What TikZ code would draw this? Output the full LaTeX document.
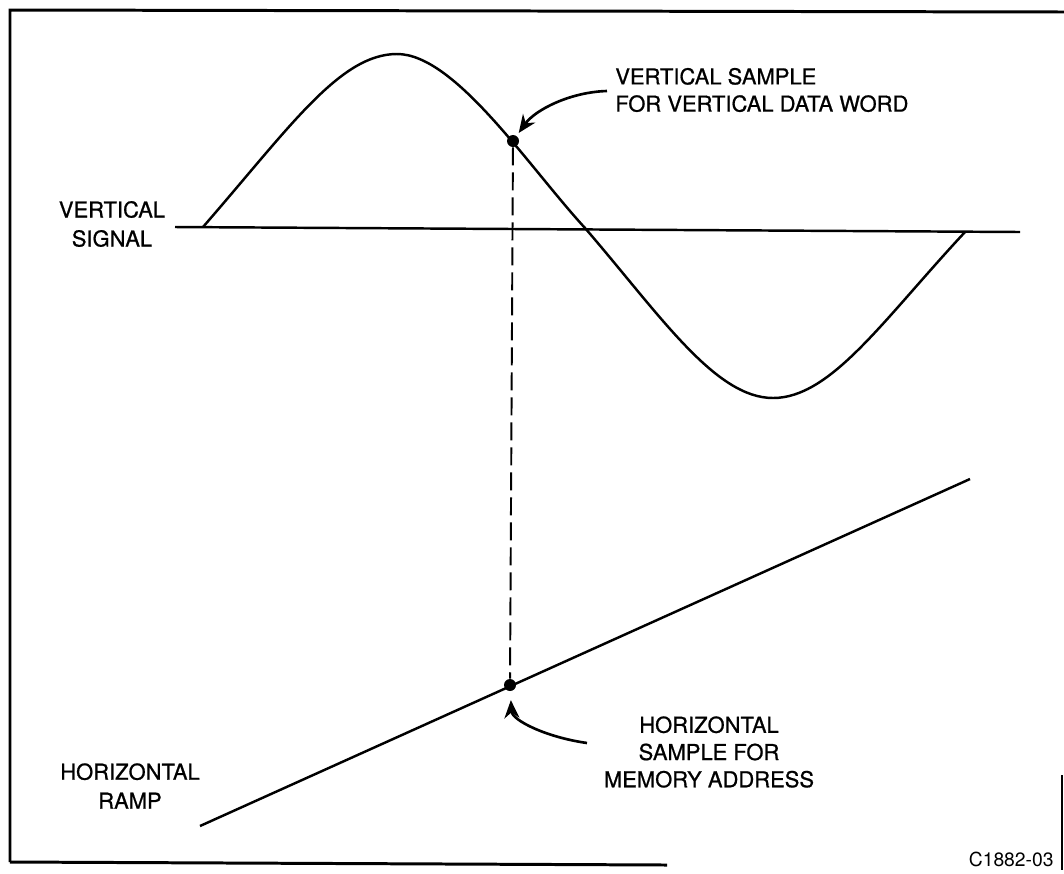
\documentclass[tikz,border=0pt]{standalone}
\usepackage{fontspec}
\setsansfont{TeX Gyre Heros}
\newfontfamily\figfont{TeX Gyre Heros}[FakeBold=0.8]
\usetikzlibrary{arrows.meta}

\begin{document}
\begin{tikzpicture}[
    x=0.02cm, y=-0.02cm,
    >=Stealth,
    every node/.style={font=\figfont\fontsize{12.5}{15.5}\selectfont},
    textblock/.style={inner sep=0pt, align=center},
    sidetext/.style={textblock, font=\figfont\fontsize{12.5}{16.5}\selectfont},
    frame/.style={draw=black, line width=1.7pt},
    trace/.style={draw=black, line width=1.4pt},
    sampledot/.style={circle, fill=black, inner sep=0pt, minimum size=0.24cm},
    pointer/.style={draw=black, line width=1.5pt, -{Stealth[length=0.36cm, width=0.3cm]}},
    sampleline/.style={draw=black, line width=1.1pt, dash pattern=on 0.36cm off 0.14cm}
]
\useasboundingbox (0,0) rectangle (1064,873);

% Frame
\draw[frame] (10,862) -- (10,10) -- (1064,12);
\draw[frame] (10,862) -- (667,865);
\draw[draw=black, line width=0.8pt] (1062,775) -- (1062,870);

% Vertical signal
\draw[trace] (175,227) -- (1020,232);
\draw[trace] (203,227) .. controls (290,127) and (340,54) .. (397,54)
    .. controls (455,54) and (528,166) .. (585,228)
    .. controls (660,315) and (715,398) .. (773,398)
    .. controls (831,398) and (883,320) .. (965,232);

% Horizontal ramp
\draw[trace] (200,826) -- (970,479);

% Samples
\node[sampledot] (vsample) at (513,141) {};
\node[sampledot] (hsample) at (510,685) {};
\draw[sampleline] (vsample) -- (hsample);

% Labels
\node[sidetext] (vsignal) at (112,224) {VERTICAL\\SIGNAL};
\node[sidetext] (hramp) at (130,786) {HORIZONTAL\\RAMP};
\node[textblock, anchor=west, align=left] (vtext) at (615,90)
    {VERTICAL SAMPLE\\FOR VERTICAL DATA WORD};
\node[textblock] (htext) at (709,752)
    {HORIZONTAL\\SAMPLE FOR\\MEMORY ADDRESS};
\node[anchor=east, inner sep=0pt, font=\sffamily\fontsize{11}{13}\selectfont]
    (figno) at (1054,859) {C1882-03};

% Pointers
\coordinate (vtail) at (607,91);
\coordinate (htail) at (587,743);
\draw[pointer, shorten >=2pt] (vtail) .. controls (570,92) and (535,110) .. (vsample);
\draw[pointer, shorten >=5pt] (htail) .. controls (545,737) and (512,720) .. (hsample);

\end{tikzpicture}
\end{document}
